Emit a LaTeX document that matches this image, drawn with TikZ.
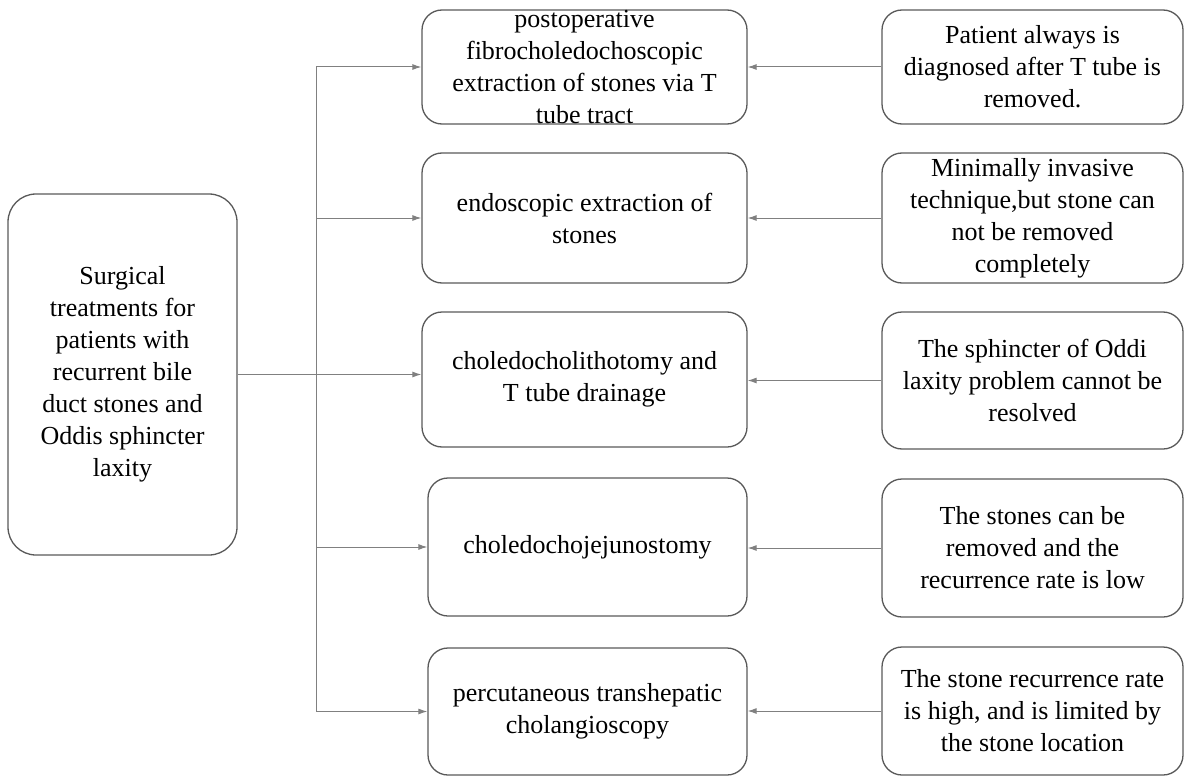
\documentclass[tikz,border=0pt]{standalone}
\usepackage{fontspec}
\setmainfont{LiberationSerif}[Extension=.ttf, UprightFont=*-Regular, BoldFont=*-Bold]
\usetikzlibrary{arrows.meta}
\definecolor{boxgray}{HTML}{595959}
\definecolor{linegray}{HTML}{808080}
\tikzset{
  block/.style={
    rectangle,
    rounded corners=20pt,
    draw=boxgray,
    line width=1.3pt,
    align=center,
    inner sep=0pt,
    font=\fontsize{26pt}{32pt}\selectfont
  },
  mid/.style={block, minimum width=325pt},
  side/.style={block, minimum width=301pt},
  plain/.style={align=center, inner sep=0pt, font=\fontsize{26pt}{32pt}\selectfont}
}
\tikzstyle{arrow} = [-{Latex[length=9pt, width=6pt]}, draw=linegray, line width=1pt]

\begin{document}
\begin{tikzpicture}[x=1pt, y=-1pt]
    \useasboundingbox (0, 0) rectangle (1184, 776);
    \node[block, rounded corners=28pt, minimum width=229pt, minimum height=361pt] (topic) at (122.5, 374.5) {Surgical\\treatments for\\patients with\\recurrent bile\\duct stones and\\Oddis sphincter\\laxity};
    % treatments
    \node[mid, minimum height=114pt] (m1) at (584.5, 67) {};
    \node[plain] (m1text) at (m1) {postoperative\\fibrocholedochoscopic\\extraction of stones via T\\tube tract};
    \node[mid, minimum height=130pt] (m2) at (584.5, 218) {endoscopic extraction of\\stones};
    \node[mid, minimum height=135pt] (m3) at (584.5, 379.5) {choledocholithotomy and\\T tube drainage};
    \node[block, minimum width=319pt, minimum height=138pt] (m4) at (587.5, 547) {choledochojejunostomy};
    \node[block, minimum width=319pt, minimum height=127pt] (m5) at (587.5, 711.5) {percutaneous transhepatic\\cholangioscopy};
    % remarks
    \node[side, minimum height=114pt] (r1) at (1032.5, 67) {Patient always is\\diagnosed after T tube is\\removed.};
    \node[side, minimum height=130pt] (r2) at (1032.5, 218) {Minimally invasive\\technique,but stone can\\not be removed\\completely};
    \node[side, minimum height=137pt] (r3) at (1032.5, 380.5) {The sphincter of Oddi\\laxity problem cannot be\\resolved};
    \node[side, minimum height=138pt] (r4) at (1032.5, 548) {The stones can be\\removed and the\\recurrence rate is low};
    \node[side, minimum height=128pt] (r5) at (1032.5, 711) {The stone recurrence rate\\is high, and is limited by\\the stone location};
    % connectors
    \coordinate (bustop) at (316, 67);
    \coordinate (busbot) at (316, 712);
    \draw[draw=linegray, line width=1pt] (bustop) -- (busbot);
    \foreach \m in {m1, m2, m4, m5}
        \draw[arrow] (bustop |- \m.west) -- (\m.west);
    \draw[arrow] (topic.east) -- (topic.east -| m3.west);
    \foreach \i in {1, ..., 5}
        \draw[arrow] (r\i.west) -- (r\i.west -| m\i.east);
\end{tikzpicture}
\end{document}
